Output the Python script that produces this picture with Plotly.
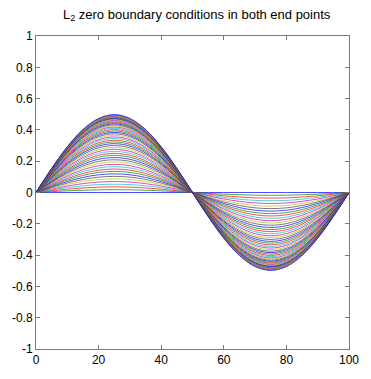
import plotly.graph_objects as go

# Sample positions and normalized profile of the converged (top) curve
x_pts = [0, 5, 10, 15, 20, 25, 30, 35, 40, 45, 50, 55, 60, 65, 70, 75, 80, 85, 90, 95, 100]
profile = [0.0, 0.309, 0.588, 0.809, 0.951, 1.0, 0.951, 0.809, 0.588, 0.309, 0.0,
           -0.309, -0.588, -0.809, -0.951, -1.0, -0.951, -0.809, -0.588, -0.309, 0.0]

# Amplitude of each iterate
amplitudes = [0.0, 0.018, 0.036, 0.053, 0.07, 0.087, 0.103, 0.119, 0.135, 0.15,
              0.165, 0.18, 0.195, 0.209, 0.223, 0.237, 0.25, 0.263, 0.276, 0.288,
              0.3, 0.312, 0.323, 0.334, 0.345, 0.355, 0.365, 0.375, 0.384, 0.393,
              0.402, 0.41, 0.418, 0.425, 0.432, 0.439, 0.445, 0.451, 0.456, 0.461,
              0.466, 0.47, 0.474, 0.478, 0.482, 0.485, 0.488, 0.491, 0.494, 0.498]

colors = ["rgb(0,0,255)", "rgb(0,128,0)", "rgb(255,0,0)", "rgb(0,191,191)",
          "rgb(191,0,191)", "rgb(191,191,0)", "rgb(64,64,64)"]

x_ticks = [0, 20, 40, 60, 80, 100]
y_ticks = [-1, -0.8, -0.6, -0.4, -0.2, 0, 0.2, 0.4, 0.6, 0.8, 1]
y_labels = ["-1", "-0.8", "-0.6", "-0.4", "-0.2", "0", "0.2", "0.4", "0.6", "0.8", "1"]

fig = go.Figure()
for i, a in enumerate(amplitudes):
    fig.add_trace(go.Scatter(
        x=x_pts, y=[a * p for p in profile], mode="lines",
        line=dict(color=colors[i % len(colors)], width=0.7, shape="spline"),
        showlegend=False, hoverinfo="skip"))

axis_common = dict(showline=True, linecolor="#7a7a7a", linewidth=1, mirror="ticks",
                   ticks="inside", ticklen=4, tickcolor="#7a7a7a", showgrid=False,
                   zeroline=False, tickfont=dict(family="Liberation Sans, Arial", size=12, color="black"))

fig.update_layout(
    width=371, height=379,
    margin=dict(l=35, r=12, t=36, b=19),
    paper_bgcolor="white", plot_bgcolor="white",
    title=dict(text="L<sub>2</sub> zero boundary conditions in both end points",
               x=0.53, xanchor="center", y=0.963, yanchor="middle",
               font=dict(family="Liberation Sans, Arial", size=13, color="black")),
    xaxis=dict(range=[0, 100], tickvals=x_ticks, **axis_common),
    yaxis=dict(range=[-1, 1], tickvals=y_ticks, ticktext=y_labels, **axis_common),
)

fig.write_html("out.html")
